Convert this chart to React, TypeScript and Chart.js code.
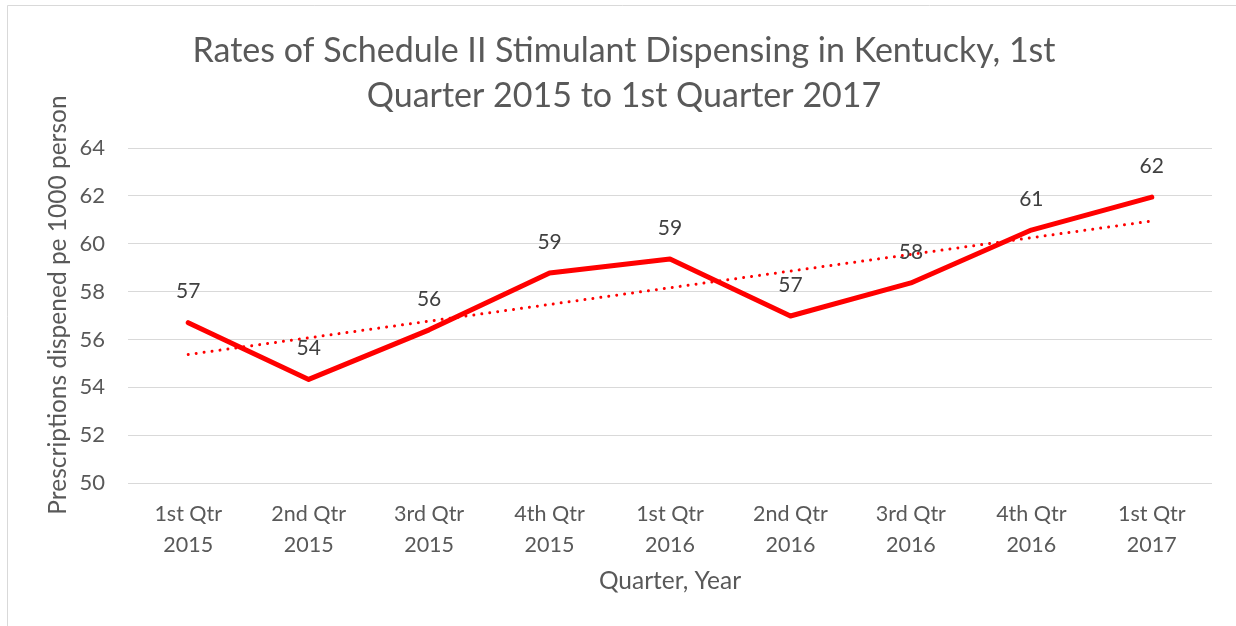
import React, { useEffect, useRef } from "react";
import { Chart, registerables } from "chart.js";

Chart.register(...registerables);

const categories: string[][] = [
  ["1st Qtr", "2015"],
  ["2nd Qtr", "2015"],
  ["3rd Qtr", "2015"],
  ["4th Qtr", "2015"],
  ["1st Qtr", "2016"],
  ["2nd Qtr", "2016"],
  ["3rd Qtr", "2016"],
  ["4th Qtr", "2016"],
  ["1st Qtr", "2017"],
];
const rates: number[] = [56.7, 54.33, 56.4, 58.78, 59.36, 56.98, 58.36, 60.57, 61.95];
const yTicks: number[] = [50, 52, 54, 56, 58, 60, 62, 64];
const titleLines: string[] = [
  "Rates of Schedule II Stimulant Dispensing in Kentucky, 1st",
  "Quarter 2015 to 1st Quarter 2017",
];
const yTitle = "Prescriptions dispened pe 1000 person";
const xTitle = "Quarter, Year";

const FONT = "Lato, 'Open Sans', sans-serif";

function linearTrend(vals: number[]): number[] {
  const n = vals.length;
  const mx = (n - 1) / 2;
  const my = vals.reduce((a, b) => a + b, 0) / n;
  let num = 0;
  let den = 0;
  vals.forEach((v, i) => {
    num += (i - mx) * (v - my);
    den += (i - mx) * (i - mx);
  });
  const slope = num / den;
  return vals.map((_, i) => my + slope * (i - mx));
}

export default function App() {
  const ref = useRef<HTMLCanvasElement | null>(null);

  useEffect(() => {
    document.body.style.margin = "0";
    const canvas = ref.current;
    if (!canvas) return;

    const decor = {
      id: "decor",
      beforeDraw(chart: any) {
        const ctx = chart.ctx;
        ctx.save();
        ctx.fillStyle = "#ffffff";
        ctx.fillRect(0, 0, chart.width, chart.height);
        ctx.strokeStyle = "#D9D9D9";
        ctx.lineWidth = 1;
        ctx.beginPath();
        ctx.moveTo(7.5, 630);
        ctx.lineTo(7.5, 5.5);
        ctx.lineTo(1240, 5.5);
        ctx.stroke();
        ctx.restore();
      },
      afterDraw(chart: any) {
        const ctx = chart.ctx;
        const area = chart.chartArea;
        ctx.save();
        ctx.fillStyle = "#595959";
        ctx.textAlign = "center";
        ctx.textBaseline = "middle";
        ctx.font = `34px ${FONT}`;
        ctx.fillText(titleLines[0], 624, 51);
        ctx.fillText(titleLines[1], 624, 96);
        ctx.font = `24.5px ${FONT}`;
        ctx.fillText(xTitle, (area.left + area.right) / 2, 581);
        ctx.save();
        ctx.translate(58, 305);
        ctx.rotate(-Math.PI / 2);
        ctx.fillText(yTitle, 0, 0);
        ctx.restore();
        ctx.restore();
      },
      afterDatasetsDraw(chart: any) {
        const ctx = chart.ctx;
        const meta = chart.getDatasetMeta(0);
        ctx.save();
        ctx.fillStyle = "#404040";
        ctx.textAlign = "center";
        ctx.textBaseline = "middle";
        ctx.font = `21px ${FONT}`;
        meta.data.forEach((pt: any, i: number) => {
          ctx.fillText(String(Math.round(rates[i])), pt.x, pt.y - 31);
        });
        ctx.restore();
      },
    };

    const chart = new Chart(canvas, {
      type: "line",
      data: {
        labels: categories,
        datasets: [
          {
            data: rates,
            borderColor: "#FF0000",
            backgroundColor: "#FF0000",
            borderWidth: 5,
            pointRadius: 0,
            borderCapStyle: "round",
            borderJoinStyle: "round",
            tension: 0,
          },
          {
            data: linearTrend(rates),
            borderColor: "#FF0000",
            borderWidth: 3,
            pointRadius: 0,
            borderDash: [0.01, 8],
            borderCapStyle: "round",
            tension: 0,
          },
        ],
      },
      options: {
        responsive: false,
        animation: false,
        devicePixelRatio: 1,
        layout: { padding: { top: 148, right: 24, left: 0, bottom: 0 } },
        plugins: {
          legend: { display: false },
          title: { display: false },
          tooltip: { enabled: false },
        },
        scales: {
          x: {
            offset: true,
            grid: { display: false, drawTicks: false },
            border: { display: false },
            ticks: {
              color: "#595959",
              font: { family: FONT, size: 21.5, lineHeight: 1.44 },
              padding: 16,
              maxRotation: 0,
              autoSkip: false,
            },
            afterFit(scale: any) {
              scale.height = 143;
            },
          },
          y: {
            min: 50,
            max: 64,
            afterBuildTicks(scale: any) {
              scale.ticks = yTicks.map((v) => ({ value: v }));
            },
            grid: { color: "#D9D9D9", lineWidth: 1, drawTicks: false },
            border: { display: false },
            ticks: {
              color: "#595959",
              font: { family: FONT, size: 22 },
              padding: 23,
            },
            afterFit(scale: any) {
              scale.width = 128;
            },
          },
        },
      },
      plugins: [decor],
    } as any);

    return () => chart.destroy();
  }, []);

  return (
    <div style={{ position: "absolute", left: 0, top: 0, width: 1236, height: 626 }}>
      <canvas ref={ref} width={1236} height={626} />
    </div>
  );
}
